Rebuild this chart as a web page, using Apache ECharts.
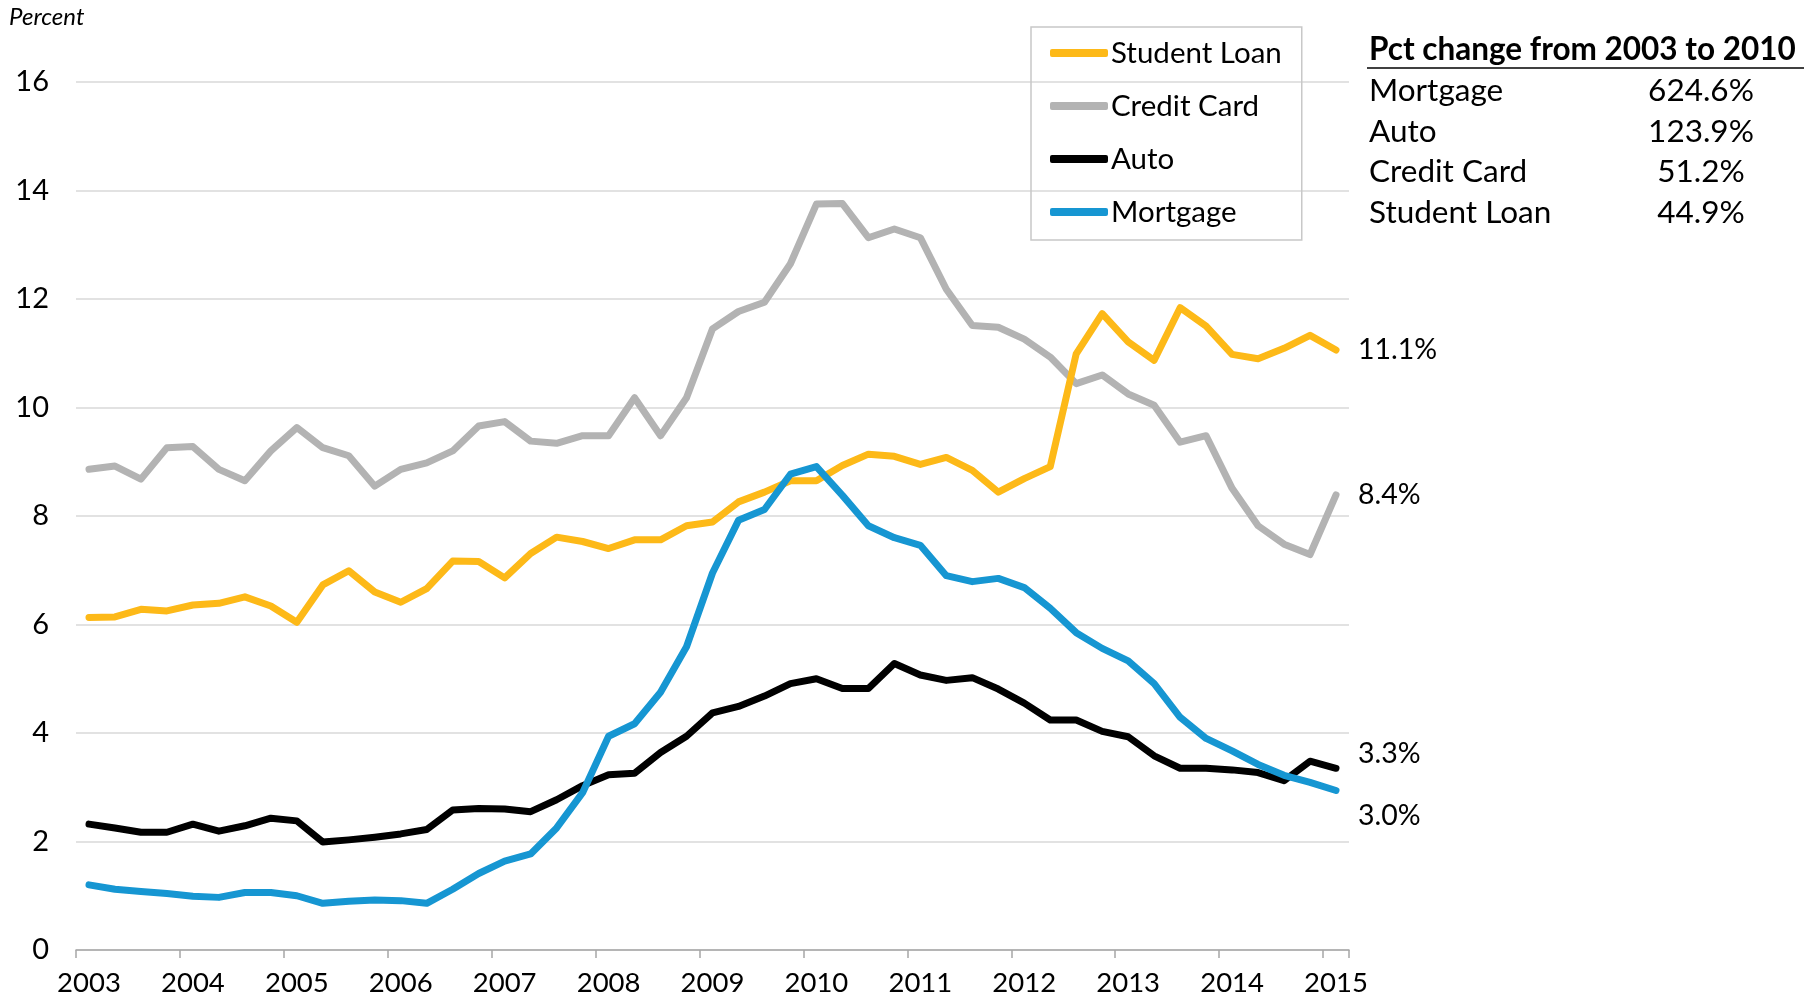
<!DOCTYPE html>
<html>
<head>
<meta charset="utf-8">
<script src="https://cdn.jsdelivr.net/npm/echarts@6/dist/echarts.min.js"></script>
<style>
html, body { margin: 0; padding: 0; background: #fff; }
#chart-box { width: 1816px; height: 1001px; }
</style>
</head>
<body>
<div id="chart-box"></div>
<script>
// quarters 2003Q1 - 2015Q1
var quarters = [
  '2003Q1','2003Q2','2003Q3','2003Q4','2004Q1','2004Q2','2004Q3','2004Q4',
  '2005Q1','2005Q2','2005Q3','2005Q4','2006Q1','2006Q2','2006Q3','2006Q4',
  '2007Q1','2007Q2','2007Q3','2007Q4','2008Q1','2008Q2','2008Q3','2008Q4',
  '2009Q1','2009Q2','2009Q3','2009Q4','2010Q1','2010Q2','2010Q3','2010Q4',
  '2011Q1','2011Q2','2011Q3','2011Q4','2012Q1','2012Q2','2012Q3','2012Q4',
  '2013Q1','2013Q2','2013Q3','2013Q4','2014Q1','2014Q2','2014Q3','2014Q4',
  '2015Q1'
];

var studentLoan = [6.13, 6.14, 6.28, 6.25, 6.36, 6.39, 6.51, 6.34, 6.04, 6.73, 6.99, 6.60,
  6.41, 6.66, 7.17, 7.16, 6.86, 7.31, 7.61, 7.53, 7.40, 7.56, 7.56, 7.82,
  7.89, 8.26, 8.44, 8.65, 8.65, 8.93, 9.14, 9.10, 8.95, 9.08, 8.84, 8.44,
  8.69, 8.91, 10.99, 11.73, 11.21, 10.87, 11.84, 11.50, 10.98, 10.90, 11.09, 11.33,
  11.06];

var creditCard = [8.86, 8.92, 8.68, 9.26, 9.28, 8.86, 8.65, 9.20, 9.63, 9.26, 9.11, 8.55,
  8.86, 8.98, 9.20, 9.66, 9.74, 9.38, 9.34, 9.48, 9.48, 10.18, 9.48, 10.18,
  11.45, 11.77, 11.94, 12.65, 13.75, 13.76, 13.13, 13.29, 13.13, 12.18, 11.51, 11.48,
  11.26, 10.93, 10.44, 10.60, 10.25, 10.04, 9.36, 9.48, 8.51, 7.82, 7.48, 7.29,
  8.39];

var auto = [2.32, 2.25, 2.17, 2.17, 2.32, 2.19, 2.29, 2.43, 2.38, 1.99, 2.03, 2.08,
  2.14, 2.22, 2.58, 2.61, 2.60, 2.55, 2.77, 3.03, 3.23, 3.26, 3.64, 3.94,
  4.37, 4.49, 4.68, 4.91, 5.00, 4.82, 4.82, 5.28, 5.07, 4.97, 5.02, 4.81,
  4.55, 4.24, 4.24, 4.03, 3.93, 3.58, 3.35, 3.35, 3.32, 3.27, 3.12, 3.48,
  3.35];

var mortgage = [1.20, 1.12, 1.08, 1.04, 0.99, 0.97, 1.06, 1.06, 1.00, 0.86, 0.90, 0.92,
  0.91, 0.86, 1.12, 1.41, 1.64, 1.77, 2.25, 2.90, 3.94, 4.17, 4.75, 5.59,
  6.95, 7.92, 8.12, 8.77, 8.91, 8.38, 7.82, 7.60, 7.46, 6.90, 6.79, 6.85,
  6.68, 6.30, 5.85, 5.56, 5.33, 4.91, 4.29, 3.90, 3.67, 3.42, 3.22, 3.09,
  2.94];

// table on the right
var tableTitle = 'Pct change from 2003 to 2010';
var tableNames = ['Mortgage', 'Auto', 'Credit Card', 'Student Loan'];
var tableValues = ['624.6%', '123.9%', '51.2%', '44.9%'];

var FONT = 'Lato, "Noto Sans", sans-serif';

var myChart = echarts.init(document.getElementById('chart-box'));

function lineSeries(name, data, color, label, dy) {
  return {
    name: name,
    type: 'line',
    data: data,
    symbol: 'none',
    lineStyle: { color: color, width: 7, cap: 'round', join: 'round' },
    itemStyle: { color: color },
    endLabel: {
      show: true,
      formatter: label,
      distance: 22,
      offset: [0, dy],
      color: '#000',
      fontSize: 28.5,
      fontFamily: FONT
    },
    emphasis: { disabled: true },
    z: 2
  };
}

var graphics = [
  {
    type: 'text', x: 9, y: 17,
    style: { text: 'Percent', fontSize: 24, fontStyle: 'italic', fontFamily: FONT, fill: '#000', textVerticalAlign: 'middle' }
  },
  {
    type: 'text', x: 1369, y: 50,
    style: { text: tableTitle, fontSize: 31.5, fontWeight: 'bold', fontFamily: FONT, fill: '#000', textVerticalAlign: 'middle' }
  },
  {
    type: 'line', shape: { x1: 1367, y1: 68, x2: 1804, y2: 68 },
    style: { stroke: '#000', lineWidth: 1.5 }
  }
];
tableNames.forEach(function (n, i) {
  graphics.push({
    type: 'text', x: 1369, y: 91 + i * 40.5,
    style: { text: n, fontSize: 31.5, fontFamily: FONT, fill: '#000', textVerticalAlign: 'middle' }
  });
  graphics.push({
    type: 'text', x: 1701, y: 91 + i * 40.5,
    style: { text: tableValues[i], fontSize: 31.5, fontFamily: FONT, fill: '#000', textAlign: 'center', textVerticalAlign: 'middle' }
  });
});

var option = {
  animation: false,
  backgroundColor: '#fff',
  grid: { left: 76, right: 467, top: 82, bottom: 51, containLabel: false },
  legend: {
    data: ['Student Loan', 'Credit Card', 'Auto', 'Mortgage'],
    orient: 'vertical',
    left: 1031,
    top: 27,
    icon: 'roundRect',
    itemWidth: 58,
    itemHeight: 8,
    itemGap: 21,
    padding: [10, 20, 12, 19],
    borderColor: '#c8c8c8',
    borderWidth: 1.5,
    textStyle: { fontSize: 29.5, fontFamily: FONT, color: '#000', lineHeight: 32, padding: [0, 0, 0, -2] }
  },
  xAxis: {
    type: 'category',
    data: quarters,
    boundaryGap: true,
    axisLine: { lineStyle: { color: '#a6a6a6', width: 1.5 } },
    axisTick: { show: true, interval: 3, length: 8, lineStyle: { color: '#a6a6a6', width: 1.5 } },
    axisLabel: {
      interval: 3,
      margin: 19,
      fontSize: 27.5,
      fontFamily: FONT,
      color: '#000',
      formatter: function (v) { return v.slice(0, 4); }
    },
    splitLine: { show: false }
  },
  yAxis: {
    type: 'value',
    min: 0,
    max: 16,
    interval: 2,
    axisLine: { show: false },
    axisTick: { show: false },
    axisLabel: { fontSize: 29, fontFamily: FONT, color: '#000', margin: 27 },
    splitLine: { lineStyle: { color: '#d9d9d9', width: 1.5 } }
  },
  series: [
    lineSeries('Credit Card', creditCard, '#b3b3b3', '8.4%', 0),
    lineSeries('Student Loan', studentLoan, '#fdb918', '11.1%', 0),
    lineSeries('Auto', auto, '#000000', '3.3%', -14),
    lineSeries('Mortgage', mortgage, '#1696d2', '3.0%', 25)
  ],
  graphic: graphics
};

myChart.setOption(option);
</script>
</body>
</html>
